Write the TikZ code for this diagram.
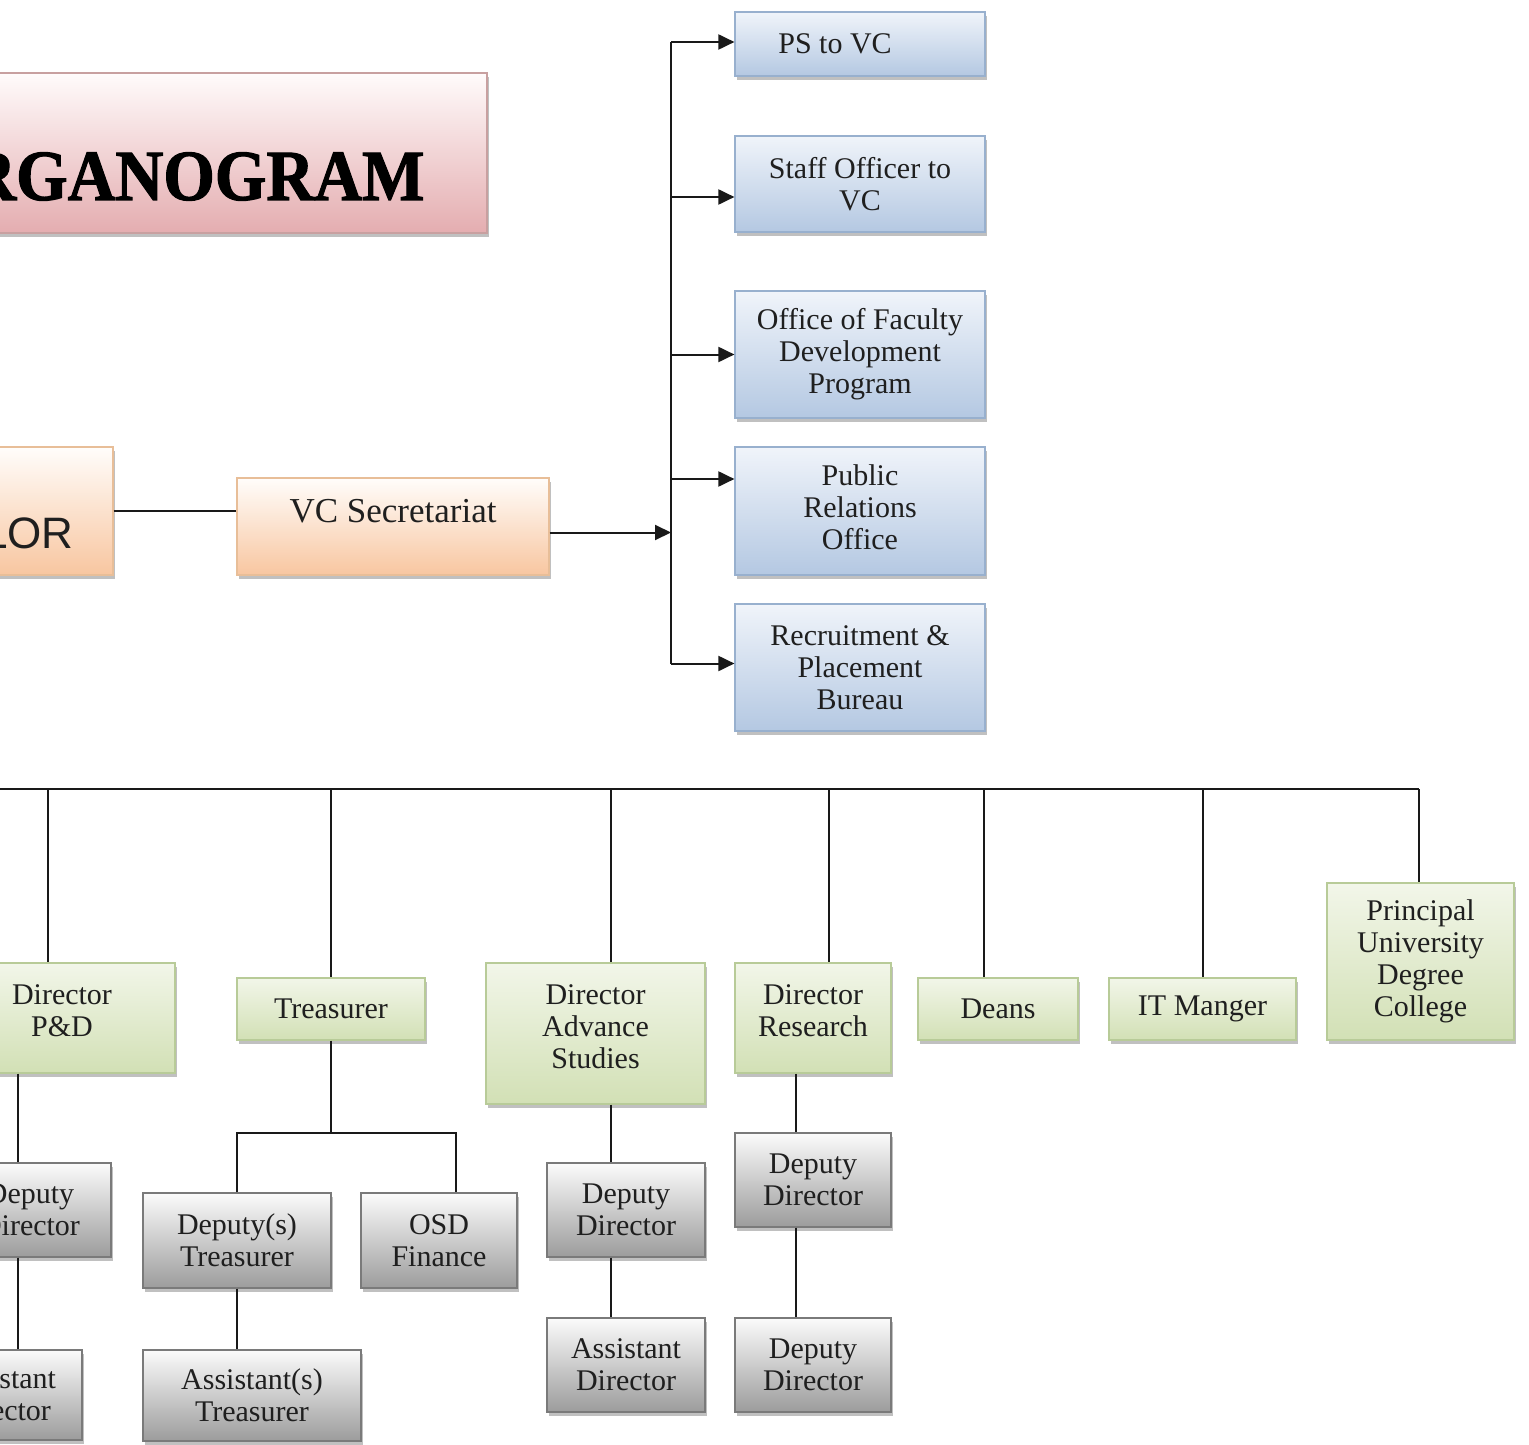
\documentclass[tikz,border=0pt]{standalone}
\usepackage{fontspec}
\setmainfont{Liberation Serif}
\setsansfont{Liberation Sans}
\newfontfamily\ttlfamily{Liberation Serif}[FakeStretch=0.92,FakeBold=1.5]
\usetikzlibrary{arrows.meta,shadows}
\definecolor{bluetop}{HTML}{F0F4FA}
\definecolor{bluebot}{HTML}{B4C8E2}
\definecolor{bluebd}{HTML}{98B0CE}
\definecolor{greentop}{HTML}{F2F6E9}
\definecolor{greenbot}{HTML}{D2E0B5}
\definecolor{greenbd}{HTML}{B8CB98}
\definecolor{graytop}{HTML}{FBFBFB}
\definecolor{graybot}{HTML}{9C9C9C}
\definecolor{graybd}{HTML}{7A7A7A}
\definecolor{pinktop}{HTML}{FFFBFB}
\definecolor{pinkbot}{HTML}{E4ADB0}
\definecolor{pinkbd}{HTML}{C8A0A0}
\definecolor{orangetop}{HTML}{FFFDFB}
\definecolor{orangebot}{HTML}{F8C6A0}
\definecolor{orangebd}{HTML}{E8BE98}
\newcommand\boxfont{\fontsize{15pt}{16pt}\selectfont}
\newcommand\mkbox[7]{%
  \pgfmathsetmacro\bxcx{(#3+#5)/2}%
  \pgfmathsetmacro\bxcy{(#4+#6)/2}%
  \pgfmathsetmacro\bxw{(#5-#3)*0.5}%
  \pgfmathsetmacro\bxh{(#6-#4)*0.5}%
  \node[#2, minimum width=\bxw pt, minimum height=\bxh pt] (#1) at (\bxcx,\bxcy) {#7};%
}
\tikzset{
  shbox/.style={draw, line width=0.6pt, align=center, inner sep=2pt, font=\boxfont, text=black!88,
    drop shadow={shadow xshift=1pt, shadow yshift=-1.8pt, opacity=0.35, fill=black!70}},
  bluebox/.style={shbox, draw=bluebd, top color=bluetop, bottom color=bluebot},
  greenbox/.style={shbox, draw=greenbd, top color=greentop, bottom color=greenbot},
  graybox/.style={shbox, draw=graybd, top color=graytop, bottom color=graybot},
  pinkbox/.style={shbox, draw=pinkbd, top color=pinktop, bottom color=pinkbot},
  orangebox/.style={shbox, draw=orangebd, top color=orangetop, bottom color=orangebot},
  conn/.style={line width=1pt, draw=black!90},
  arr/.style={conn, -{Triangle[length=8pt,width=7.5pt]}}
}
\begin{document}
\begin{tikzpicture}[x=0.5pt, y=-0.5pt]
\useasboundingbox[fill=white] (0,0) rectangle (1529,1444);
\begin{scope}
\clip (0,0) rectangle (1529,1444);
% title and top
\mkbox{ttlbox}{pinkbox}{-80}{73}{487}{233}{}
\node[anchor=base east, inner sep=0pt, font=\ttlfamily\bfseries\fontsize{36pt}{40pt}\selectfont, text=black] (ttl) at (425,200) {RGANOGRAM};
\mkbox{vc}{orangebox}{-200}{447}{113}{575}{}
\node[anchor=base east, inner sep=0pt, font=\sffamily\fontsize{22pt}{24pt}\selectfont, text=black!88] (lor) at (74,548) {LOR};
\mkbox{vcs}{orangebox}{237}{478}{549}{575}{}
\node[font=\fontsize{17.5pt}{20pt}\selectfont, text=black!88] (vcst) at (393,511) {VC Secretariat};
% blue column
\mkbox{ps}{bluebox}{735}{12}{985}{76}{PS to VC\kern25pt}
\mkbox{staff}{bluebox}{735}{136}{985}{232}{Staff Officer to\\VC}
\mkbox{ofdp}{bluebox}{735}{291}{985}{418}{Office of Faculty\\Development\\Program}
\mkbox{pro}{bluebox, text depth=4pt}{735}{447}{985}{575}{Public\\Relations\\Office}
\mkbox{rpb}{bluebox}{735}{604}{985}{731}{Recruitment \&\\Placement\\Bureau}
% green row
\mkbox{dpd}{greenbox, text depth=7pt}{-51}{963}{175}{1073}{Director\\P\&D}
\mkbox{tr}{greenbox}{237}{978}{425}{1040}{Treasurer}
\mkbox{das}{greenbox, text depth=7pt}{486}{963}{705}{1104}{Director\\Advance\\Studies}
\mkbox{dr}{greenbox, text depth=7pt}{735}{963}{891}{1073}{Director\\Research}
\mkbox{deans}{greenbox}{918}{978}{1078}{1040}{Deans}
\mkbox{itm}{greenbox}{1109}{978}{1296}{1040}{IT Manger}
\mkbox{pudc}{greenbox}{1327}{883}{1514}{1040}{Principal\\University\\Degree\\College}
% gray boxes
\mkbox{ddp}{graybox}{-51}{1163}{111}{1257}{Deputy\\Director}
\mkbox{adp}{graybox}{-80}{1350}{82}{1440}{Assistant\\Director}
\mkbox{dt}{graybox}{143}{1193}{331}{1288}{Deputy(s)\\Treasurer}
\mkbox{osd}{graybox}{361}{1193}{517}{1288}{OSD\\Finance}
\mkbox{at}{graybox}{143}{1350}{361}{1441}{Assistant(s)\\Treasurer}
\mkbox{dda}{graybox}{547}{1163}{705}{1257}{Deputy\\Director}
\mkbox{ada}{graybox}{547}{1318}{705}{1412}{Assistant\\Director}
\mkbox{ddr1}{graybox}{735}{1133}{891}{1227}{Deputy\\Director}
\mkbox{ddr2}{graybox}{735}{1318}{891}{1412}{Deputy\\Director}
% connectors top
\coordinate (vbar) at (671,0);
\draw[conn] (vc.east) -- (vc.east -| vcs.west);
\coordinate (aV) at ([yshift=-3pt]vcs.east);
\draw[arr] (aV) -- (aV -| vbar);
\coordinate (aPS) at ([yshift=1pt]ps.west);
\coordinate (aST) at ([yshift=-6.5pt]staff.west);
\coordinate (aOF) at (ofdp.west);
\coordinate (aPR) at ([yshift=16pt]pro.west);
\coordinate (aRP) at ([yshift=2pt]rpb.west);
\draw[conn] (aPS -| vbar) -- (aRP -| vbar);
\draw[arr] (aPS -| vbar) -- (aPS);
\draw[arr] (aST -| vbar) -- (aST);
\draw[arr] (aOF -| vbar) -- (aOF);
\draw[arr] (aPR -| vbar) -- (aPR);
\draw[arr] (aRP -| vbar) -- (aRP);
% bus
\coordinate (busL) at (-20,789);
\coordinate (bP) at (48,789);
\coordinate (bT) at (331,789);
\coordinate (bA) at (611,789);
\coordinate (bR) at (829,789);
\coordinate (bD) at (984,789);
\coordinate (bI) at (1203,789);
\coordinate (bU) at (1419,789);
\draw[conn] (busL) -- (bU);
\draw[conn] (bP) -- (bP |- dpd.north);
\draw[conn] (bT) -- (bT |- tr.north);
\draw[conn] (bA) -- (bA |- das.north);
\draw[conn] (bR) -- (bR |- dr.north);
\draw[conn] (bD) -- (bD |- deans.north);
\draw[conn] (bI) -- (bI |- itm.north);
\draw[conn] (bU) -- (bU |- pudc.north);
% sub trees
\coordinate (xP) at (18,0);
\draw[conn] (xP |- dpd.south) -- (xP |- ddp.north);
\draw[conn] (xP |- ddp.south) -- (xP |- adp.north);
\coordinate (tj) at (331,1133);
\coordinate (oj) at (456,1133);
\draw[conn] (tr.south) -- (tj);
\draw[conn] (dt.north) |- (oj) -- (oj |- osd.north);
\draw[conn] (dt.south) -- (dt.south |- at.north);
\coordinate (xA) at (611,0);
\draw[conn] (xA |- das.south) -- (xA |- dda.north);
\draw[conn] (xA |- dda.south) -- (xA |- ada.north);
\coordinate (xR) at (796,0);
\draw[conn] (xR |- dr.south) -- (xR |- ddr1.north);
\draw[conn] (xR |- ddr1.south) -- (xR |- ddr2.north);
\end{scope}
\end{tikzpicture}
\end{document}
